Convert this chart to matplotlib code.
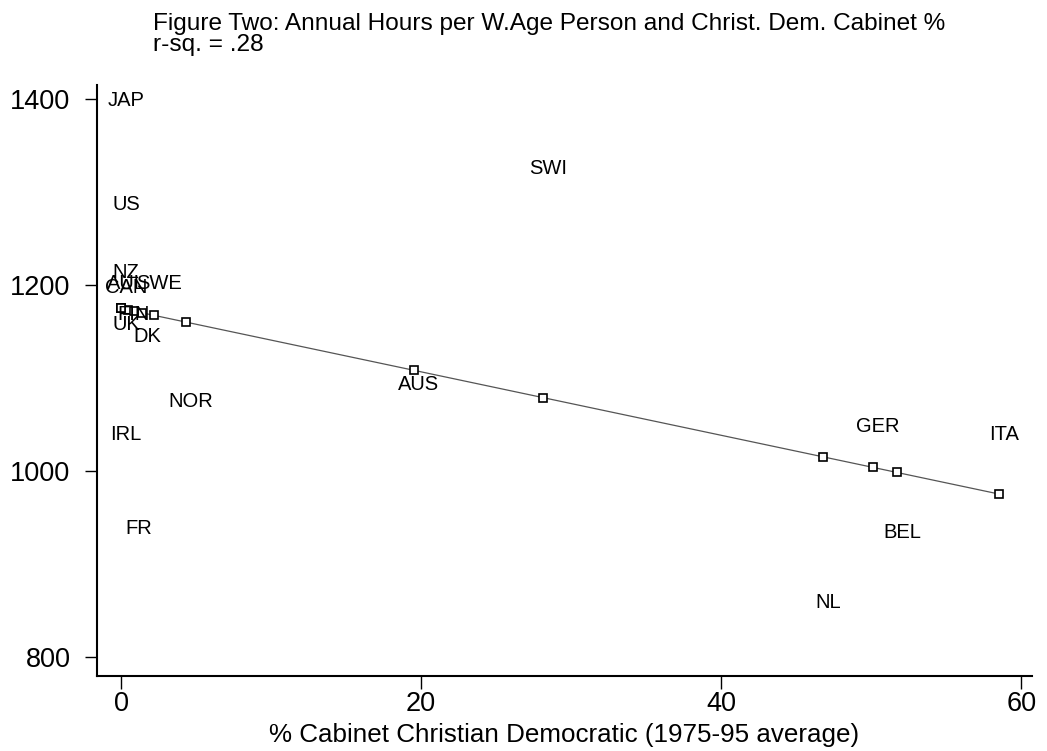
import matplotlib
matplotlib.use("Agg")
import matplotlib.pyplot as plt
import numpy as np

plt.rcParams['font.family'] = ['Liberation Sans', 'DejaVu Sans']

countries = ["JAP", "US", "NZ", "AUL", "CAN", "SWE", "FIN", "UK", "DK", "NOR",
             "IRL", "FR", "AUS", "SWI", "GER", "ITA", "BEL", "NL"]
cd_cabinet = [0.0, 0.0, 0.0, 0.0, 0.0, 2.2, 0.47, 0.0, 1.4, 4.3,
              0.0, 0.87, 19.5, 28.1, 50.1, 58.5, 51.7, 46.8]
annual_hours = [1398, 1287, 1214, 1202, 1197, 1202, 1168, 1158, 1145, 1075,
                1040, 938, 1093, 1325, 1048, 1040, 934, 859]
fit_intercept = 1175.0
fit_slope = -3.41

x_ticks = [0, 20, 40, 60]
y_ticks = [800, 1000, 1200, 1400]

W, H = 1047, 751
fig = plt.figure(figsize=(W / 100, H / 100), dpi=100)
ax = fig.add_axes([97 / W, 1 - 676 / H, (1032 - 97) / W, (676 - 85) / H])

x = np.array(cd_cabinet)
fitted = fit_intercept + fit_slope * x
order = np.argsort(x)
ax.plot(x[order], fitted[order], color='#555555', lw=0.9, zorder=2)
ax.plot(x, fitted, linestyle='none', marker='s', markersize=5.5,
        markerfacecolor='white', markeredgecolor='black', markeredgewidth=1.2, zorder=3)

for name, xi, yi in zip(countries, cd_cabinet, annual_hours):
    ax.annotate(name, (xi, yi), xytext=(3.6, 0), textcoords='offset points',
                ha='center', va='center', fontsize=14.5, color='black', zorder=4)

ax.set_xlim(-1.6, 60.7)
ax.set_ylim(780, 1415)
ax.set_xticks(x_ticks)
ax.set_yticks(y_ticks)
ax.tick_params(axis='both', direction='out', length=9, width=1, colors='black',
               labelsize=19.5)
ax.tick_params(axis='x', pad=2)
ax.tick_params(axis='y', pad=10)
for s in ['top', 'right']:
    ax.spines[s].set_visible(False)
for s in ['left', 'bottom']:
    ax.spines[s].set_linewidth(1.5)
    ax.spines[s].set_color('black')

ax.set_xlabel("% Cabinet Christian Democratic (1975-95 average)", fontsize=18.7, labelpad=4)

fig.text(153 / W, 1 - 30 / H, "Figure Two: Annual Hours per W.Age Person and Christ. Dem. Cabinet %",
         fontsize=17.6, ha='left', va='baseline')
fig.text(153 / W, 1 - 51 / H, "r-sq. = .28", fontsize=17.6, ha='left', va='baseline')

fig.savefig("out.png", dpi=100, facecolor='white')
